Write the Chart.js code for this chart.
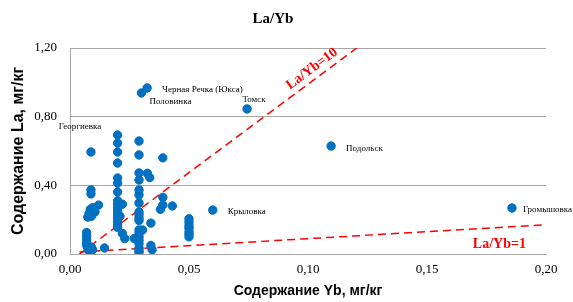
<!DOCTYPE html>
<html>
<head>
<meta charset="utf-8">
<script src="https://cdn.jsdelivr.net/npm/chart.js@4"></script>
<style>
  html, body { margin: 0; padding: 0; background: #fff; }
</style>
</head>
<body>
<canvas id="chartLaYb" width="573" height="302"></canvas>
<script>
// unnamed samples: Yb and La, mg/kg
const ybValues = [
  0.0088, 0.0088, 0.012, 0.0095, 0.0085, 0.0105, 0.008, 0.0075, 0.009,
  0.007, 0.007, 0.007, 0.007, 0.007, 0.0075, 0.008, 0.0085, 0.009, 0.0095, 0.0145,
  0.02, 0.02, 0.02, 0.02, 0.02, 0.02, 0.02, 0.02, 0.02, 0.02, 0.02, 0.02, 0.02, 0.02, 0.02, 0.02,
  0.022, 0.021, 0.022, 0.023,
  0.029, 0.029, 0.029, 0.029, 0.029, 0.029, 0.029, 0.029, 0.029, 0.029, 0.029,
  0.029, 0.029, 0.029, 0.029, 0.029, 0.029, 0.029, 0.029,
  0.027, 0.0305, 0.034, 0.034, 0.0345, 0.0325, 0.0335, 0.039, 0.039, 0.039, 0.038, 0.043,
  0.05, 0.05, 0.05, 0.05, 0.05, 0.05, 0.05
];
const laValues = [
  0.373, 0.35, 0.285, 0.27, 0.26, 0.245, 0.235, 0.215, 0.22,
  0.125, 0.105, 0.085, 0.065, 0.05, 0.035, 0.02, 0.01, 0.04, 0.025, 0.035,
  0.693, 0.646, 0.594, 0.53, 0.443, 0.413, 0.361, 0.31, 0.29, 0.27, 0.25, 0.23, 0.21, 0.19, 0.17, 0.155,
  0.29, 0.22, 0.12, 0.09,
  0.658, 0.577, 0.472, 0.431, 0.373, 0.344, 0.297, 0.245, 0.23, 0.21, 0.195,
  0.14, 0.12, 0.10, 0.08, 0.06, 0.035, 0.02, 0.01,
  0.09, 0.14, 0.18, 0.05, 0.025, 0.47, 0.445, 0.56, 0.33, 0.285, 0.26, 0.28,
  0.205, 0.185, 0.165, 0.15, 0.13, 0.115, 0.10
];

// named sites
const siteNames = ["Черная Речка (Юкса)", "Половинка", "Томск", "Георгиевка", "Подольск", "Крыловка", "Громышовка"];
const siteYb = [0.0324, 0.030, 0.0744, 0.0088, 0.1097, 0.060, 0.1857];
const siteLa = [0.967, 0.938, 0.845, 0.594, 0.629, 0.256, 0.268];

// reference ratio lines
const ratio10Yb = [0.004, 0.1205];
const ratio10La = [0.0, 1.2];
const ratio1Yb = [0.004, 0.2];
const ratio1La = [0.012, 0.17];

const xTicks = [0, 0.05, 0.1, 0.15, 0.2];
const yTicks = [0, 0.4, 0.8, 1.2];

const BLUE = "#0070C0";
const RED = "#FF0000";
const GRID = "#A6A6A6";
const SERIF = "'Liberation Serif', 'Times New Roman', serif";
const SANS = "'Liberation Sans', Arial, sans-serif";

const toPts = (xs, ys) => xs.map((x, i) => ({ x, y: ys[i] }));
const fmt = v => Number(v).toFixed(2).replace(".", ",");

// label offsets in pixels from the site point (text placement only)
const labelOffsets = [
  { dx: 15, dy: 2, align: "left" },
  { dx: 8, dy: 9, align: "left" },
  { dx: 7, dy: -9, align: "center" },
  { dx: -11, dy: -25, align: "center" },
  { dx: 15, dy: 3, align: "left" },
  { dx: 15, dy: 2, align: "left" },
  { dx: 11, dy: 2, align: "left" }
];

const annotations = {
  id: "annotations",
  afterDatasetsDraw(chart) {
    const { ctx, scales: { x, y } } = chart;
    ctx.save();
    ctx.fillStyle = "#000";
    ctx.font = "9px " + SERIF;
    ctx.textBaseline = "middle";
    siteNames.forEach((name, i) => {
      const o = labelOffsets[i];
      ctx.textAlign = o.align;
      ctx.fillText(name, x.getPixelForValue(siteYb[i]) + o.dx, y.getPixelForValue(siteLa[i]) + o.dy);
    });

    // ratio line captions
    ctx.fillStyle = RED;
    ctx.font = "bold 14px " + SERIF;
    ctx.textAlign = "center";
    const x0 = x.getPixelForValue(ratio10Yb[0]), y0 = y.getPixelForValue(ratio10La[0]);
    const x1 = x.getPixelForValue(ratio10Yb[1]), y1 = y.getPixelForValue(ratio10La[1]);
    const ang = Math.atan2(y1 - y0, x1 - x0);
    const t = 0.86;
    ctx.save();
    ctx.translate(x0 + (x1 - x0) * t, y0 + (y1 - y0) * t);
    ctx.rotate(ang);
    ctx.fillText("La/Yb=10", 0, -10);
    ctx.restore();

    const a0 = x.getPixelForValue(ratio1Yb[0]), b0 = y.getPixelForValue(ratio1La[0]);
    const a1 = x.getPixelForValue(ratio1Yb[1]), b1 = y.getPixelForValue(ratio1La[1]);
    const s = 0.9;
    ctx.fillText("La/Yb=1", a0 + (a1 - a0) * s, b0 + (b1 - b0) * s + 17);
    ctx.restore();
  }
};

const ctx = document.getElementById("chartLaYb").getContext("2d");
new Chart(ctx, {
  type: "scatter",
  data: {
    datasets: [
      { data: toPts(ybValues, laValues), backgroundColor: BLUE, borderColor: BLUE, pointRadius: 4.2 },
      { data: toPts(siteYb, siteLa), backgroundColor: BLUE, borderColor: BLUE, pointRadius: 4.2 },
      { data: toPts(ratio10Yb, ratio10La), showLine: true, borderColor: RED, borderWidth: 1.5,
        borderDash: [8, 5], pointRadius: 0, fill: false },
      { data: toPts(ratio1Yb, ratio1La), showLine: true, borderColor: RED, borderWidth: 1.5,
        borderDash: [8, 5], pointRadius: 0, fill: false }
    ]
  },
  options: {
    responsive: false,
    animation: false,
    devicePixelRatio: 1,
    layout: { padding: { left: 0, right: 27, top: 0, bottom: 0 } },
    plugins: {
      legend: { display: false },
      tooltip: { enabled: false },
      title: {
        display: true,
        text: "La/Yb",
        color: "#000",
        font: { family: SERIF, size: 15, weight: "bold", lineHeight: 1.2 },
        padding: { top: 10, bottom: 20 }
      }
    },
    scales: {
      x: {
        type: "linear",
        min: 0, max: 0.2,
        afterBuildTicks: s => { s.ticks = xTicks.map(v => ({ value: v })); },
        afterFit: s => { s.height = 48; },
        grid: { display: false, drawTicks: false },
        border: { display: true, color: GRID, width: 1 },
        ticks: { color: "#000", padding: 8, font: { family: SERIF, size: 13 }, callback: fmt, maxRotation: 0 },
        title: { display: true, text: "Содержание Yb, мг/кг", color: "#000",
                 font: { family: SANS, size: 14, weight: "bold" }, padding: { top: 4, bottom: 2 } }
      },
      y: {
        type: "linear",
        min: 0, max: 1.2,
        afterBuildTicks: s => { s.ticks = yTicks.map(v => ({ value: v })); },
        afterFit: s => { s.width = 70; },
        grid: { color: GRID, lineWidth: 1, drawTicks: false },
        border: { display: true, color: GRID, width: 1 },
        ticks: { color: "#000", padding: 13, font: { family: SERIF, size: 13 }, callback: fmt },
        title: { display: true, text: "Содержание La, мг/кг", color: "#000",
                 font: { family: SANS, size: 16, weight: "bold" }, padding: { top: 9, bottom: 4 } }
      }
    }
  },
  plugins: [annotations]
});
</script>
</body>
</html>
